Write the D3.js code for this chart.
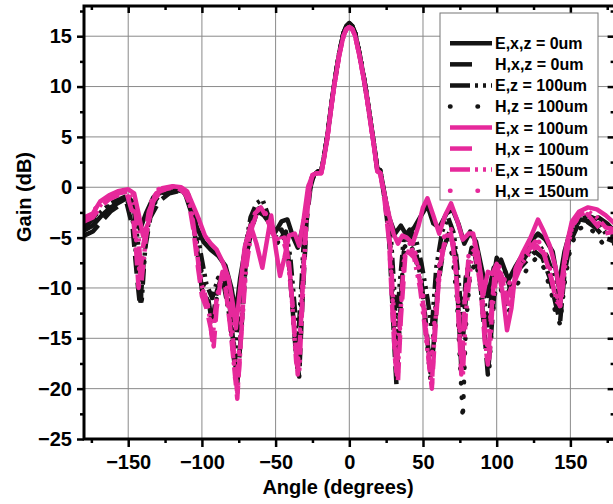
<!DOCTYPE html>
<html>
<head>
<meta charset="utf-8">
<script src="https://cdn.jsdelivr.net/npm/d3@7"></script>
<style>
  body { margin: 0; background: #fff; }
  text { font-family: Arial, "Liberation Sans", sans-serif; font-weight: bold; }
</style>
</head>
<body>
<script>
// Gain vs angle, 8 traces (E / H planes, several offsets)

var w = 613;
var h = 504;

// x ticks and y ticks
var xMajor = [-150, -100, -50, 0, 50, 100, 150];
var xMinor = [-175, -125, -75, -25, 25, 75, 125, 175];
var yMajor = [-25, -20, -15, -10, -5, 0, 5, 10, 15];
var yMinor = [-22.5, -17.5, -12.5, -7.5, -2.5, 2.5, 7.5, 12.5, 17.5];

// main lobe, shared by the black and the pink traces
var mainBlack = [[-24,1.2],[-21,1.6],[-19,1.6],[-17,3.2],[-15,5],[-12,8.4],[-10,10.5],[-7,13.2],[-4,15.3],[-2,16],[0,16.3],[2,16],[4,15.3],[7,13.2],[10,10.8],[12,9],[15,6],[17,4],[19,1.8],[21,1.7]];
var mainPink = [[-25,1.2],[-22,1.4],[-19,1.4],[-17,3],[-15,4.8],[-12,8.2],[-10,10.3],[-7,13],[-4,15],[-2,15.7],[0,15.9],[2,15.7],[4,15],[7,13],[10,10.6],[12,8.8],[15,5.8],[17,3.8],[19,1.6],[21,1.4]];

// E,x,z = 0um
var exz0Left = [[-180,-4.3],[-174,-3.8],[-168,-2.8],[-162,-2],[-156,-1.5],[-150,-1],[-146,-1.6],[-142,-4.2],[-138,-2.6],[-133,-1],[-127,-0.4],[-120,-0.2],[-113,-0.4],[-108,-1.4],[-104,-3.8],[-99,-5.4],[-94,-6.2],[-89,-6.8],[-84,-7.8],[-80,-10],[-77,-12.5],[-74,-9],[-70,-5.5],[-66,-3.2],[-62,-2.4],[-58,-2.8],[-54,-3.6],[-50,-4.4],[-46,-3.4],[-42,-3.2],[-38,-5],[-35,-6],[-31,-3.6],[-28,-0.8]];
var exz0Right = [[24,-0.8],[27,-3],[31,-4.6],[35,-3.8],[39,-4.8],[44,-4],[48,-3],[53,-1.8],[57,-3.6],[61,-4],[66,-2.6],[70,-2.2],[74,-3.6],[78,-5.6],[82,-4.4],[86,-5.4],[90,-8.2],[94,-10.8],[98,-8],[103,-7.2],[108,-9.2],[113,-7.8],[118,-6.6],[123,-5.4],[128,-4.6],[133,-5.2],[138,-6.4],[142,-9.8],[146,-6.4],[151,-3.8],[157,-3.2],[163,-3.4],[169,-3],[175,-3.6],[180,-4.4]];

// H,x,z = 0um
var hxz0Left = [[-180,-4.8],[-174,-4.4],[-168,-3.4],[-162,-2.4],[-156,-1.8],[-151,-1.6],[-147,-4],[-144,-9],[-142,-11.8],[-139,-6.5],[-135,-3],[-129,-1.4],[-122,-0.6],[-116,-0.4],[-111,-0.8],[-107,-2.6],[-103,-6.4],[-100,-10.2],[-96,-10.8],[-93,-13.6],[-90,-10.4],[-86,-8.6],[-82,-10.5],[-79,-15],[-76,-19.6],[-73,-13.6],[-70,-7],[-66,-4],[-62,-2.2],[-58,-2],[-54,-3.4],[-50,-4.6],[-46,-4.2],[-42,-5.8],[-39,-11],[-36,-17],[-34,-18.8],[-32,-12],[-29,-3.4],[-26,0.4]];
var hxz0Right = [[24,-1.2],[27,-5],[29,-11],[31,-17],[32,-19.6],[34,-14],[37,-6.4],[41,-4.8],[45,-6.2],[49,-9.4],[52,-13.5],[55,-18.4],[57,-16],[60,-10],[64,-6],[68,-4.4],[72,-6.6],[74,-12],[76,-18],[78,-13],[81,-7.6],[85,-6.6],[89,-9.6],[92,-15],[94,-18.6],[96,-15],[99,-9.4],[103,-8.8],[107,-10.8],[111,-9.2],[116,-8],[121,-7.2],[126,-6.4],[131,-7],[136,-9],[140,-11.6],[143,-13.4],[146,-8.6],[150,-5.4],[155,-3.8],[161,-3.4],[167,-4],[173,-5],[180,-5.4]];

// E,z = 100um
var ez100Left = [[-180,-4],[-174,-3.2],[-168,-2.4],[-162,-1.6],[-156,-1.2],[-150,-0.8],[-146,-2.4],[-143,-6],[-141,-11.6],[-138,-5],[-134,-1.8],[-128,-0.6],[-121,-0.2],[-114,-0.2],[-109,-0.8],[-105,-2.8],[-101,-6.4],[-97,-9.6],[-93,-11],[-89,-9],[-85,-9.8],[-81,-13],[-78,-17.4],[-75,-12],[-71,-6.4],[-67,-3],[-63,-1.6],[-59,-1.2],[-55,-2.8],[-51,-4.8],[-47,-5.2],[-43,-4.4],[-40,-7],[-37,-12],[-35,-16],[-33,-11],[-30,-3],[-27,0.6]];
var ez100Right = [[25,-1.6],[28,-4.4],[30,-9],[32,-15],[34,-10],[37,-5],[41,-4.2],[45,-5],[49,-7.6],[53,-11],[56,-14],[59,-8],[63,-4.4],[67,-3],[71,-4.6],[74,-9],[77,-14],[79,-9],[83,-6],[87,-6.8],[91,-10.4],[94,-14],[97,-10],[100,-7],[105,-8],[109,-10],[114,-8.4],[119,-7],[124,-6],[129,-5.8],[134,-6.8],[139,-9],[143,-11.8],[146,-7.4],[150,-4.6],[156,-3.4],[162,-2.8],[168,-3.2],[174,-4.6],[180,-4.8]];

// H,z = 100um
var hz100Left = [[-180,-3.6],[-174,-3],[-168,-2.2],[-162,-1.8],[-156,-1.4],[-151,-1.2],[-147,-3.2],[-144,-7.8],[-142,-11],[-139,-6],[-135,-2.4],[-129,-0.8],[-122,-0.4],[-116,-0.2],[-111,-0.6],[-107,-2.2],[-103,-5.8],[-99,-9.6],[-95,-12],[-92,-13.2],[-89,-10],[-85,-8.4],[-81,-11],[-78,-16],[-76,-18.8],[-73,-13],[-69,-6],[-65,-3.4],[-61,-2],[-57,-2.6],[-53,-4.4],[-49,-5.6],[-45,-4.6],[-41,-7],[-38,-13],[-35,-18.4],[-33,-13],[-30,-4],[-27,0.4]];
var hz100Right = [[25,-1.8],[28,-6],[30,-12.4],[32,-18.8],[34,-13.4],[37,-6],[41,-5.4],[45,-7],[49,-10.2],[52,-14.4],[55,-19],[58,-12.6],[62,-7],[66,-5],[70,-6.8],[73,-11],[75,-17],[77,-23],[79,-14],[82,-8.6],[86,-7.4],[89,-10],[92,-14.6],[95,-18],[97,-13],[100,-9],[104,-10.6],[108,-12.6],[112,-10],[117,-9],[122,-7.8],[127,-7],[132,-8],[137,-10.4],[140,-12.6],[143,-13.6],[146,-9.6],[150,-6],[155,-4.2],[161,-3.8],[167,-4.6],[173,-5.8],[180,-5.6]];

// E,x = 100um
var ex100Left = [[-180,-3],[-174,-2.6],[-169,-1.4],[-163,-0.8],[-157,-0.4],[-150,-0.2],[-146,-0.6],[-143,-2.6],[-140,-4.8],[-136,-3.4],[-132,-0.8],[-127,-0.1],[-120,0.1],[-114,0],[-110,-0.4],[-106,-1.8],[-102,-3.2],[-98,-4.8],[-94,-5.6],[-90,-6.2],[-86,-7.4],[-82,-9],[-79,-11.6],[-77,-14],[-74,-10],[-71,-6],[-67,-3.8],[-63,-5.6],[-59,-8],[-56,-5.4],[-53,-2.8],[-50,-6],[-47,-8.8],[-44,-7],[-41,-4.8],[-37,-4.6],[-34,-5.8],[-31,-3.2],[-28,0]];
var ex100Right = [[24,-0.8],[27,-2.8],[30,-4.6],[33,-5.6],[36,-4.8],[39,-5],[43,-5.6],[47,-3.8],[50,-2],[53,-1.1],[57,-2.8],[61,-4.6],[65,-2.8],[69,-1.6],[73,-3.2],[77,-5.2],[81,-4.6],[84,-4.6],[88,-7.4],[91,-10.6],[94,-8.4],[97,-8.6],[100,-7.6],[104,-10.4],[107,-14.2],[110,-12],[113,-8],[118,-6.4],[123,-5],[128,-3.2],[132,-4.4],[136,-5.8],[140,-8],[143,-10.6],[147,-6],[151,-3.4],[156,-2.4],[162,-2],[168,-2.2],[174,-2.8],[180,-3.6]];

// H,x = 100um
var hx100Left = [[-180,-3.4],[-174,-3],[-169,-2],[-163,-1.2],[-157,-0.8],[-151,-0.6],[-147,-2.6],[-145,-5.4],[-143,-10],[-140,-6],[-136,-2.4],[-131,-0.6],[-125,-0.2],[-119,0],[-113,-0.2],[-109,-1.4],[-106,-4],[-103,-7.6],[-100,-10.8],[-97,-12],[-94,-14],[-92,-15.8],[-90,-12],[-87,-9],[-84,-10],[-81,-13.6],[-78,-18],[-76,-21],[-74,-16],[-71,-9],[-68,-4.8],[-64,-2.6],[-60,-2],[-56,-3],[-52,-4.6],[-48,-5.4],[-44,-5],[-41,-7.4],[-38,-12.6],[-35,-18.6],[-33,-14],[-30,-5],[-27,0]];
var hx100Right = [[24,-1.4],[27,-5.4],[29,-11.6],[31,-17],[33,-19.4],[35,-13],[38,-6.8],[42,-6],[46,-7.6],[50,-11.4],[53,-15.6],[56,-20],[58,-15],[61,-8.6],[65,-5],[69,-4.6],[72,-7.6],[74,-12.6],[76,-18.6],[78,-12],[81,-6.8],[85,-6.2],[89,-9.8],[92,-15.4],[94,-17.6],[96,-13],[99,-8],[103,-8.6],[107,-11],[111,-9.6],[116,-7.8],[121,-6.4],[126,-5.4],[131,-6.2],[136,-8.4],[140,-11],[143,-11.8],[146,-7.4],[150,-4.2],[155,-2.8],[161,-2.6],[167,-3.6],[173,-4.6],[180,-4.4]];

// E,x = 150um
var ex150Left = [[-180,-3.2],[-174,-2.8],[-168,-1.6],[-162,-1],[-156,-0.6],[-150,-0.4],[-146,-1.6],[-143,-4.8],[-141,-9.4],[-138,-5],[-134,-1.6],[-128,-0.4],[-121,0],[-115,-0.2],[-110,-0.8],[-107,-2.4],[-104,-5.6],[-101,-9.4],[-98,-10.6],[-95,-12.6],[-93,-15.2],[-90,-11],[-86,-8.4],[-83,-9.6],[-80,-13],[-78,-17],[-76,-20.6],[-73,-14],[-70,-8],[-66,-4],[-62,-2.2],[-58,-2.4],[-54,-3.8],[-50,-5.2],[-46,-4.8],[-42,-6.6],[-39,-11],[-36,-17.4],[-34,-18.4],[-32,-12],[-29,-2.8],[-26,0.6]];
var ex150Right = [[25,-1.8],[28,-6.4],[30,-12],[32,-18.6],[34,-14],[37,-7.4],[40,-6.4],[44,-7],[48,-10],[51,-13.6],[54,-17.4],[56,-19.6],[58,-14],[62,-7.4],[66,-4.8],[70,-5.4],[73,-9.6],[75,-15],[77,-18.8],[79,-12.6],[83,-7],[87,-6.4],[90,-10],[93,-16.4],[95,-17],[97,-12],[100,-8.4],[104,-9.4],[108,-11.6],[112,-9.4],[117,-7.6],[122,-6.6],[127,-5.8],[132,-6.6],[137,-9],[141,-11.4],[144,-11],[147,-7],[151,-4],[156,-2.8],[162,-2.4],[168,-3],[174,-4],[180,-4.2]];

// H,x = 150um
var hx150Left = [[-180,-3],[-174,-2.4],[-168,-1.4],[-162,-0.8],[-156,-0.4],[-151,-0.4],[-147,-2],[-144,-6],[-142,-9],[-139,-5],[-135,-1.6],[-130,-0.2],[-124,0],[-118,0.1],[-112,-0.2],[-108,-1.6],[-105,-4.4],[-102,-8],[-99,-10.4],[-96,-11.6],[-93,-14.6],[-91,-13],[-88,-9.6],[-85,-9],[-82,-12],[-79,-16.4],[-77,-19.8],[-74,-15],[-71,-8.6],[-67,-4.2],[-63,-2.4],[-59,-1.8],[-55,-3.2],[-51,-5],[-47,-5.2],[-43,-5.6],[-40,-9],[-37,-15],[-35,-18],[-33,-13],[-30,-4.4],[-27,0.2]];
var hx150Right = [[24,-1],[27,-4.6],[29,-10],[31,-15.6],[33,-18.4],[35,-12],[38,-6.2],[42,-5.4],[46,-7],[50,-10.6],[53,-15],[55,-18.6],[58,-13],[61,-7.6],[65,-4.4],[69,-4],[72,-6.6],[74,-11.6],[76,-17],[78,-12.4],[81,-6.6],[85,-5.6],[89,-8.8],[92,-13.6],[94,-16.4],[96,-12.4],[99,-7.6],[103,-8],[107,-10],[111,-8.8],[116,-7.2],[121,-6],[126,-5],[131,-5.8],[136,-8],[140,-10.4],[143,-12],[146,-7.6],[150,-4.6],[155,-3],[161,-2.6],[167,-3.2],[173,-4.2],[180,-4]];

var black = "#141414";
var pink = "#e6299b";

// dash styles: [data dasharray, legend dasharray, linecap]
var solid = ["none", "none", "butt"];
var dash = ["18,9", "22,40", "butt"];
var dashDot = ["16,5,3,5,3,5", "20,5,3,5,3,5", "butt"];
var dot = ["0.5,14", "0.5,27", "round"];

var series = [
  { name: "E,x,z = 0um", pts: exz0Left.concat(mainBlack, exz0Right), color: black, style: solid },
  { name: "H,x,z = 0um", pts: hxz0Left.concat(mainBlack, hxz0Right), color: black, style: dash },
  { name: "E,z = 100um", pts: ez100Left.concat(mainBlack, ez100Right), color: black, style: dashDot },
  { name: "H,z = 100um", pts: hz100Left.concat(mainBlack, hz100Right), color: black, style: dot },
  { name: "E,x = 100um", pts: ex100Left.concat(mainPink, ex100Right), color: pink, style: solid },
  { name: "H,x = 100um", pts: hx100Left.concat(mainPink, hx100Right), color: pink, style: dash },
  { name: "E,x = 150um", pts: ex150Left.concat(mainPink, ex150Right), color: pink, style: dashDot },
  { name: "H,x = 150um", pts: hx150Left.concat(mainPink, hx150Right), color: pink, style: dot }
];

var x = d3.scaleLinear().domain([-180, 180]).range([84, 614.6]);
var y = d3.scaleLinear().domain([-25, 18]).range([439, 6]);

var svg = d3.select("body").append("svg")
  .attr("width", w)
  .attr("height", h);

// grid
svg.append("g").selectAll("line")
  .data(xMajor)
  .enter().append("line")
  .attr("x1", function(d) { return x(d); })
  .attr("x2", function(d) { return x(d); })
  .attr("y1", y(18))
  .attr("y2", y(-25))
  .attr("stroke", "#8a8a8a")
  .attr("stroke-width", 1);

svg.append("g").selectAll("line")
  .data(yMajor.slice(1))
  .enter().append("line")
  .attr("x1", x(-180))
  .attr("x2", x(180))
  .attr("y1", function(d) { return y(d); })
  .attr("y2", function(d) { return y(d); })
  .attr("stroke", "#8a8a8a")
  .attr("stroke-width", 1);

// data lines, clipped to the plot box
svg.append("clipPath").attr("id", "plot")
  .append("rect")
  .attr("x", x(-180)).attr("y", y(18))
  .attr("width", x(180) - x(-180)).attr("height", y(-25) - y(18));

var line = d3.line()
  .x(function(d) { return x(d[0]); })
  .y(function(d) { return y(d[1]); });

svg.append("g").attr("clip-path", "url(#plot)")
  .selectAll("path")
  .data(series)
  .enter().append("path")
  .attr("d", function(d) { return line(d.pts); })
  .attr("fill", "none")
  .attr("stroke", function(d) { return d.color; })
  .attr("stroke-width", 4.5)
  .attr("stroke-linejoin", "round")
  .attr("stroke-linecap", function(d) { return d.style[2]; })
  .attr("stroke-dasharray", function(d) { return d.style[0]; });

// axes
function styleAxis(g) {
  g.select(".domain").remove();
  g.selectAll(".tick line").attr("stroke", "#000").attr("stroke-width", 2.5);
  g.selectAll("text").attr("font-size", 20).attr("fill", "#000")
    .attr("font-family", "Arial, 'Liberation Sans', sans-serif").attr("font-weight", "bold");
}

svg.append("g")
  .attr("transform", "translate(" + x(-180) + ",0)")
  .call(d3.axisLeft(y).tickValues(yMajor).tickSize(7).tickPadding(5))
  .call(styleAxis);
svg.append("g")
  .attr("transform", "translate(" + x(-180) + ",0)")
  .call(d3.axisLeft(y).tickValues(yMinor).tickSize(4).tickFormat(""))
  .call(styleAxis);

svg.append("g")
  .attr("transform", "translate(0," + y(-25) + ")")
  .call(d3.axisBottom(x).tickValues(xMajor).tickSize(8).tickPadding(8))
  .call(styleAxis);
svg.append("g")
  .attr("transform", "translate(0," + y(-25) + ")")
  .call(d3.axisBottom(x).tickValues(xMinor).tickSize(4).tickFormat(""))
  .call(styleAxis);

// top and right ticks point inward
svg.append("g")
  .attr("transform", "translate(0," + y(18) + ")")
  .call(d3.axisTop(x).tickValues(xMajor).tickSize(-7).tickFormat(""))
  .call(styleAxis);
svg.append("g")
  .attr("transform", "translate(0," + y(18) + ")")
  .call(d3.axisTop(x).tickValues(xMinor).tickSize(-4).tickFormat(""))
  .call(styleAxis);
svg.append("g")
  .attr("transform", "translate(" + x(180) + ",0)")
  .call(d3.axisRight(y).tickValues(yMajor).tickSize(-7).tickFormat(""))
  .call(styleAxis);
svg.append("g")
  .attr("transform", "translate(" + x(180) + ",0)")
  .call(d3.axisRight(y).tickValues(yMinor).tickSize(-4).tickFormat(""))
  .call(styleAxis);

// frame
svg.append("rect")
  .attr("x", x(-180)).attr("y", y(18))
  .attr("width", x(180) - x(-180)).attr("height", y(-25) - y(18))
  .attr("fill", "none")
  .attr("stroke", "#000")
  .attr("stroke-width", 3);

// axis titles
svg.append("text")
  .attr("x", 338).attr("y", 494)
  .attr("text-anchor", "middle")
  .attr("font-size", 20)
  .text("Angle (degrees)");

svg.append("text")
  .attr("transform", "translate(31,197) rotate(-90)")
  .attr("text-anchor", "middle")
  .attr("font-size", 20)
  .text("Gain (dB)");

// legend
var legend = svg.append("g");
legend.append("rect")
  .attr("x", 440).attr("y", 13)
  .attr("width", 158).attr("height", 187)
  .attr("fill", "#fff")
  .attr("stroke", "#777")
  .attr("stroke-width", 1);

var rows = legend.selectAll("g.row")
  .data(series)
  .enter().append("g")
  .attr("class", "row")
  .attr("transform", function(d, i) { return "translate(0," + (43.3 + i * 21.05) + ")"; });

rows.append("line")
  .attr("x1", 450).attr("x2", 492)
  .attr("stroke", function(d) { return d.color; })
  .attr("stroke-width", 4.5)
  .attr("stroke-linecap", function(d) { return d.style[2]; })
  .attr("stroke-dasharray", function(d) { return d.style[1]; });

rows.append("text")
  .attr("x", 495).attr("y", 6)
  .attr("font-size", 16)
  .text(function(d) { return d.name; });
</script>
</body>
</html>
